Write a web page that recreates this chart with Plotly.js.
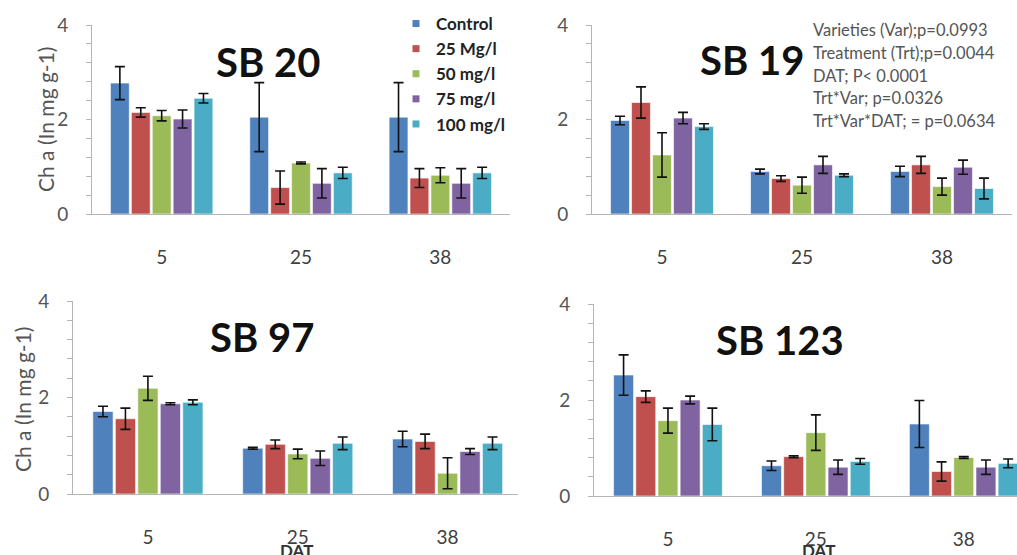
<!DOCTYPE html>
<html>
<head>
<meta charset="utf-8">
<script src="https://cdn.plot.ly/plotly-3.0.1.min.js"></script>
<style>html,body{margin:0;padding:0;background:#fff;}#chart{width:1017px;height:555px;}</style>
</head>
<body>
<div id="chart"></div>
<script>
// ---- data ----
const days = ['5', '25', '38'];
const treatments = ['Control', '25 Mg/l', '50 mg/l', '75 mg/l', '100 mg/l'];
const panelTitles = ['SB 20', 'SB 19', 'SB 97', 'SB 123'];
const yTickVals = [0, 0.4, 0.8, 1.2, 1.6, 2, 2.4, 2.8, 3.2, 3.6, 4];
const yTickText = ['0', '', '', '', '', '2', '', '', '', '', '4'];
const statsLines = [
  'Varieties (Var);p=0.0993',
  'Treatment (Trt);p=0.0044',
  'DAT; P< 0.0001',
  'Trt*Var; p=0.0326',
  'Trt*Var*DAT; = p=0.0634'
];
const yTitle = 'Ch a (In mg g-1)';
const xTitle = 'DAT';

// rows = treatments, columns = days
const sb20Mean = [[2.77, 2.05, 2.05], [2.15, 0.56, 0.76], [2.08, 1.08, 0.82], [2.01, 0.65, 0.65], [2.45, 0.87, 0.87]];
const sb20Err  = [[0.35, 0.73, 0.73], [0.10, 0.35, 0.20], [0.11, 0.02, 0.16], [0.19, 0.31, 0.31], [0.10, 0.12, 0.12]];
const sb19Mean = [[1.98, 0.90, 0.90], [2.36, 0.75, 1.04], [1.25, 0.61, 0.58], [2.03, 1.04, 0.99], [1.85, 0.82, 0.54]];
const sb19Err  = [[0.09, 0.05, 0.11], [0.33, 0.06, 0.18], [0.47, 0.17, 0.18], [0.12, 0.18, 0.15], [0.06, 0.03, 0.22]];
const sb97Mean = [[1.71, 0.95, 1.14], [1.56, 1.03, 1.09], [2.19, 0.83, 0.43], [1.87, 0.74, 0.88], [1.90, 1.05, 1.05]];
const sb97Err  = [[0.11, 0.02, 0.16], [0.22, 0.09, 0.15], [0.25, 0.10, 0.32], [0.02, 0.15, 0.06], [0.05, 0.13, 0.13]];
const sb123Mean = [[2.52, 0.63, 1.50], [2.07, 0.82, 0.51], [1.57, 1.32, 0.80], [2.00, 0.60, 0.60], [1.49, 0.72, 0.68]];
const sb123Err  = [[0.42, 0.10, 0.49], [0.12, 0.02, 0.20], [0.26, 0.37, 0.02], [0.08, 0.15, 0.15], [0.34, 0.06, 0.09]];

// ---- styling ----
const colors = ['#4f81bd', '#c0504d', '#9bbb59', '#8064a2', '#4bacc6'];
const W = 1017, H = 555;
const FONT = 'Lato, "Liberation Sans", Arial, sans-serif';
const px = v => v / W;
const py = v => 1 - v / H;

const panels = [
  {mean: sb20Mean, err: sb20Err, x0: 92, x1: 510, yT: 25, yB: 214, rmax: 2.5, title: [268, 62]},
  {mean: sb19Mean, err: sb19Err, x0: 592, x1: 1012, yT: 25, yB: 214, rmax: 2.5, title: [752, 60]},
  {mean: sb97Mean, err: sb97Err, x0: 73, x1: 518, yT: 301, yB: 494, rmax: 2.47, title: [262, 337]},
  {mean: sb123Mean, err: sb123Err, x0: 594, x1: 1017, yT: 304, yB: 496, rmax: 2.36, title: [780, 340]}
];

const traces = [];
const layout = {
  width: W, height: H,
  margin: {l: 0, r: 0, t: 0, b: 0},
  paper_bgcolor: '#ffffff', plot_bgcolor: 'rgba(0,0,0,0)',
  barmode: 'group', bargap: 0.25, bargroupgap: 0.1,
  showlegend: true,
  legend: {
    x: px(396), y: py(6), xanchor: 'left', yanchor: 'top',
    font: {family: FONT, size: 17, color: '#222', weight: 'bold'},
    bgcolor: 'rgba(0,0,0,0)', itemwidth: 30, tracegroupgap: 0
  },
  annotations: [],
  font: {family: FONT}
};

panels.forEach((p, i) => {
  const n = i + 1;
  const xa = n === 1 ? 'x' : 'x' + n;
  const ya = n === 1 ? 'y' : 'y' + n;
  treatments.forEach((t, k) => {
    traces.push({
      type: 'bar', x: days, y: p.mean[k], name: t,
      xaxis: xa, yaxis: ya, showlegend: false,
      marker: {color: colors[k], line: {color: 'rgba(255,255,255,0.6)', width: 1}},
      error_y: {type: 'data', array: p.err[k], visible: true, color: '#111', thickness: 1.6, width: 5},
      hoverinfo: 'skip'
    });
  });
  layout['xaxis' + (n === 1 ? '' : n)] = {
    domain: [px(p.x0), Math.min(1, px(p.x1))],
    anchor: ya, type: 'category', range: [-0.5, p.rmax],
    showline: true, linecolor: '#b5b5b5', linewidth: 1,
    ticks: '', showgrid: false, zeroline: false,
    tickfont: {family: FONT, size: 19, color: '#404040'},
    ticklabelstandoff: 26, fixedrange: true
  };
  layout['yaxis' + (n === 1 ? '' : n)] = {
    domain: [py(p.yB), py(p.yT)],
    anchor: xa, range: [0, 4],
    tickmode: 'array', tickvals: yTickVals, ticktext: yTickText,
    ticks: 'outside', ticklen: 5, tickcolor: '#b5b5b5', tickwidth: 1,
    showline: true, linecolor: '#b5b5b5', linewidth: 1,
    showgrid: false, zeroline: false,
    tickfont: {family: FONT, size: 19, color: '#555'},
    ticklabelstandoff: 14, fixedrange: true
  };
  layout.annotations.push({
    xref: 'paper', yref: 'paper', x: px(p.title[0]), y: py(p.title[1]),
    xanchor: 'center', yanchor: 'middle', showarrow: false,
    text: '<b>' + panelTitles[i] + '</b>',
    font: {family: FONT, size: 40, color: '#111'}
  });
});

// legend entries
treatments.forEach((t, k) => {
  traces.push({
    type: 'scatter', mode: 'markers', x: [null], y: [null], name: t,
    xaxis: 'x', yaxis: 'y', showlegend: true,
    marker: {symbol: 'square', size: 7, color: colors[k]}, hoverinfo: 'skip'
  });
});

// stats text
statsLines.forEach((s, j) => {
  layout.annotations.push({
    xref: 'paper', yref: 'paper', x: px(811), y: py(30 + j * 22.8),
    xanchor: 'left', yanchor: 'middle', showarrow: false, text: s,
    font: {family: FONT, size: 16.5, color: '#555'}
  });
});

// y titles
[[45, 120], [22, 400]].forEach(c => {
  layout.annotations.push({
    xref: 'paper', yref: 'paper', x: px(c[0]), y: py(c[1]),
    xanchor: 'center', yanchor: 'middle', showarrow: false, textangle: -90,
    text: yTitle, font: {family: FONT, size: 21, color: '#555'}
  });
});

// DAT labels
[[296, 550], [818, 550]].forEach(c => {
  layout.annotations.push({
    xref: 'paper', yref: 'paper', x: px(c[0]), y: py(c[1]),
    xanchor: 'center', yanchor: 'middle', showarrow: false,
    text: '<b>' + xTitle + '</b>', font: {family: FONT, size: 17, color: '#333'}
  });
});

Plotly.newPlot('chart', traces, layout, {staticPlot: true, displayModeBar: false});
</script>
</body>
</html>
